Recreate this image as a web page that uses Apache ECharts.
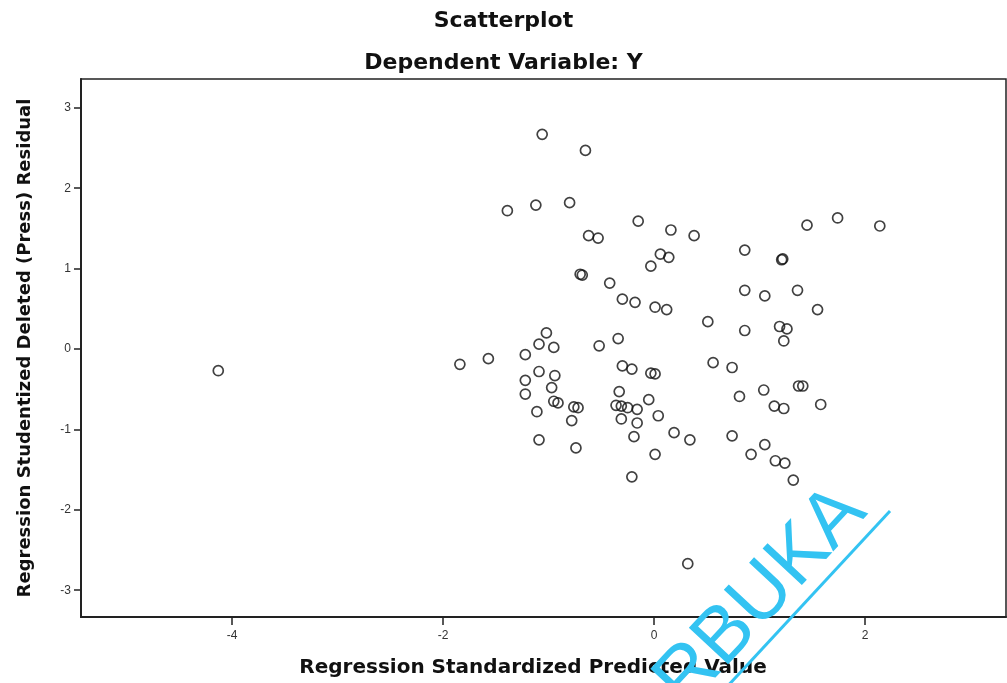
<!DOCTYPE html>
<html>
<head>
<meta charset="utf-8">
<title>Scatterplot</title>
<script src="https://cdn.jsdelivr.net/npm/echarts@6/dist/echarts.min.js"></script>
<style>
  html, body { margin: 0; padding: 0; background: #fff; }
  #main { width: 1007px; height: 683px; }
</style>
</head>
<body>
<div id="main"></div>
<script>
// standardized predicted value (x) and studentized deleted residual (y)
var predicted = [
  -4.13, -1.84, -1.57, -1.06, -0.65, -1.39, -1.12, -0.80, -0.15, 0.16,
  0.38, -0.62, -0.53, 0.86, 0.06, 0.14, -0.03, -0.70, -0.68, -0.42,
  0.86, -0.30, -0.18, 0.01, 0.12, 0.51, 0.86, -1.02, -1.09, -0.95,
  -0.52, -0.34, -1.22, -0.30, -0.21, -0.03, 0.01, 0.56, 0.74, -1.09,
  -0.94, -1.22, -0.97, -1.22, -0.33, 0.81, -0.95, -0.91, -0.76, -0.72,
  -0.36, -0.31, -0.25, -0.16, -0.05, -1.11, -0.78, -0.31, -0.16, 0.04,
  0.19, 0.34, -0.19, 0.74, -1.09, -0.74, 0.01, -0.21, 0.32, 1.45,
  1.74, 2.14, 1.21, 1.22, 1.05, 1.36, 1.55, 1.19, 1.26, 1.23,
  1.04, 1.37, 1.41, 1.14, 1.23, 1.58, 1.05, 0.92, 1.15, 1.24,
  1.32
];
var residual = [
  -0.27, -0.19, -0.12, 2.67, 2.47, 1.72, 1.79, 1.82, 1.59, 1.48,
  1.41, 1.41, 1.38, 1.23, 1.18, 1.14, 1.03, 0.93, 0.92, 0.82,
  0.73, 0.62, 0.58, 0.52, 0.49, 0.34, 0.23, 0.20, 0.06, 0.02,
  0.04, 0.13, -0.07, -0.21, -0.25, -0.30, -0.31, -0.17, -0.23, -0.28,
  -0.33, -0.39, -0.48, -0.56, -0.53, -0.59, -0.65, -0.67, -0.72, -0.73,
  -0.70, -0.71, -0.73, -0.75, -0.63, -0.78, -0.89, -0.87, -0.92, -0.83,
  -1.04, -1.13, -1.09, -1.08, -1.13, -1.23, -1.31, -1.59, -2.67, 1.54,
  1.63, 1.53, 1.11, 1.12, 0.66, 0.73, 0.49, 0.28, 0.25, 0.10,
  -0.51, -0.46, -0.46, -0.71, -0.74, -0.69, -1.19, -1.31, -1.39, -1.42,
  -1.63
];
var xTicks = [-4, -2, 0, 2];
var yTicks = [-3, -2, -1, 0, 1, 2, 3];

var points = predicted.map(function (x, i) { return [x, residual[i]]; });

var myChart = echarts.init(document.getElementById('main'), null, { renderer: 'canvas' });

var titleFont = 'DejaVu Sans';
var option = {
    backgroundColor: '#fff',
    animation: false,
    title: [{
        text: 'Scatterplot',
        left: 'center',
        top: 5,
        textStyle: { fontFamily: titleFont, fontWeight: 'bold', fontSize: 22, color: '#111' }
    }, {
        text: 'Dependent Variable: Y',
        left: 'center',
        top: 47,
        textStyle: { fontFamily: titleFont, fontWeight: 'bold', fontSize: 22, color: '#111' }
    }],
    grid: {
        left: 81,
        top: 79,
        right: 1,
        bottom: 66,
        outerBoundsMode: 'none',
        show: true,
        borderColor: '#222',
        borderWidth: 1.5,
        backgroundColor: '#fff'
    },
    xAxis: {
        type: 'value',
        min: -5.431,
        max: 3.336,
        name: 'Regression Standardized Predicted Value',
        nameLocation: 'middle',
        nameGap: 41,
        nameTextStyle: {
            fontFamily: titleFont, fontWeight: 'bold', fontSize: 20, color: '#111',
            padding: [0, 21, 0, 0]
        },
        axisLine: { show: true, onZero: false, lineStyle: { color: '#222', width: 2 } },
        axisTick: { show: true, length: 8, customValues: xTicks, lineStyle: { color: '#222', width: 1.5 } },
        axisLabel: {
            customValues: xTicks, margin: 13,
            fontFamily: 'Liberation Sans', fontSize: 12, color: '#333'
        },
        splitLine: { show: false }
    },
    yAxis: {
        type: 'value',
        min: -3.333,
        max: 3.358,
        name: 'Regression Studentized Deleted (Press) Residual',
        nameLocation: 'middle',
        nameGap: 47,
        nameTextStyle: { fontFamily: titleFont, fontWeight: 'bold', fontSize: 18, color: '#111' },
        axisLine: { show: true, onZero: false, lineStyle: { color: '#222', width: 2 } },
        axisTick: { show: true, length: 7, customValues: yTicks, lineStyle: { color: '#222', width: 1.5 } },
        axisLabel: {
            customValues: yTicks, margin: 10,
            fontFamily: 'Liberation Sans', fontSize: 12, color: '#333'
        },
        splitLine: { show: false }
    },
    series: [{
        type: 'scatter',
        data: points,
        symbol: 'circle',
        symbolSize: 10,
        itemStyle: { color: 'rgba(0,0,0,0)', borderColor: '#111', borderWidth: 1.7 }
    }],
    graphic: [{
        type: 'text',
        x: 698,
        y: 722,
        rotation: 47 * Math.PI / 180,
        silent: true,
        z: 100,
        style: {
            text: 'RBUKA',
            font: '78px "Liberation Sans"',
            fill: '#33c3f2',
            textAlign: 'left',
            textVerticalAlign: 'bottom'
        }
    }, {
        type: 'line',
        silent: true,
        z: 100,
        shape: { x1: 890, y1: 511, x2: 686, y2: 731 },
        style: { stroke: '#33c3f2', lineWidth: 3 }
    }]
};
myChart.setOption(option);
</script>
</body>
</html>
